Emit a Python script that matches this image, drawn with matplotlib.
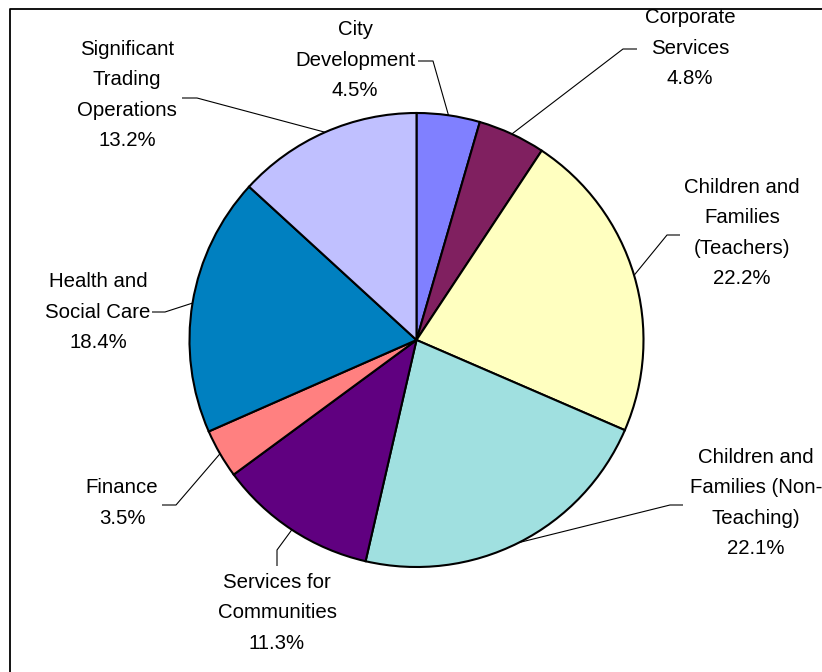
import numpy as np
import matplotlib
matplotlib.use("Agg")
import matplotlib.pyplot as plt

W, H = 822, 672

# budget share by department, clockwise from 12 o'clock
departments = [
    "City\nDevelopment",
    "Corporate\nServices",
    "Children and\nFamilies\n(Teachers)",
    "Children and\nFamilies (Non-\nTeaching)",
    "Services for\nCommunities",
    "Finance",
    "Health and\nSocial Care",
    "Significant\nTrading\nOperations",
]
shares = [4.5, 4.8, 22.2, 22.1, 11.3, 3.5, 18.4, 13.2]
colors = ["#8080FF", "#802060", "#FFFFC0", "#A0E0E0",
          "#600080", "#FF8080", "#0080C0", "#C0C0FF"]

# label centre, leader start (at the text) and elbow, in pixel coords from top-left
label_pos = [(355, 60), (690, 48), (742, 233), (756, 503),
             (277, 613), (122, 503), (98, 312), (127, 95)]
leader_start = [(418, 61), (637, 49), (680, 235), (683, 505),
                (277, 566), (162, 505), (152, 312), (182, 98)]
leader_elbow = [(433, 61), (623, 49), (667, 235), (670, 505),
                (277, 550), (176, 505), (165, 312), (197, 98)]

CX, CY, R = 416.5, 340, 227


def px(x, y):
    return x, H - y


fig = plt.figure(figsize=(W / 100, H / 100), dpi=100)
ax = fig.add_axes([0, 0, 1, 1])

wedges, _ = ax.pie(shares, colors=colors, startangle=90, counterclock=False,
                   radius=R, center=px(CX, CY),
                   wedgeprops=dict(edgecolor="black", linewidth=1.5))

for w, text, (tx, ty), s, e in zip(wedges, departments, label_pos,
                                   leader_start, leader_elbow):
    mid = np.deg2rad((w.theta1 + w.theta2) / 2)
    ex, ey = CX + R * np.cos(mid), CY - R * np.sin(mid)
    xs = [s[0], e[0], ex]
    ys = [H - s[1], H - e[1], H - ey]
    ax.plot(xs, ys, color="black", lw=0.8, solid_capstyle="butt")
    pct = 100 * (w.theta2 - w.theta1) / 360
    ax.text(*px(tx, ty), f"{text}\n{pct:.1f}%", ha="center", va="center",
            family="Liberation Sans", fontsize=14.7, linespacing=1.75,
            color="black")

# chart area border (runs off the right and bottom edges)
ax.plot([10, 10, W + 5], [-5, H - 9, H - 9], color="black", lw=1.3)

ax.set_xlim(0, W)
ax.set_ylim(0, H)
ax.set_aspect("equal")
ax.axis("off")

fig.savefig("out.png", dpi=100)
